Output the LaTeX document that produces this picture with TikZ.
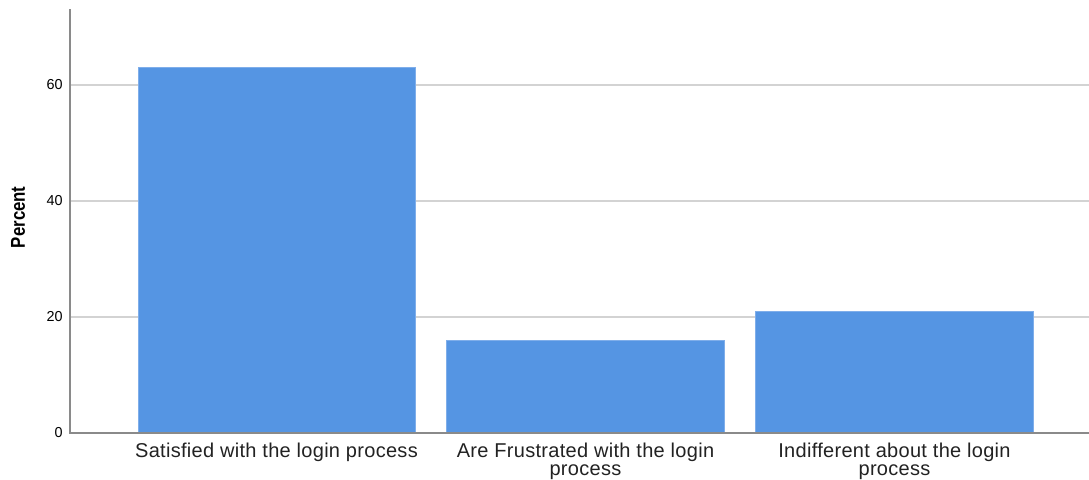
\documentclass[tikz,border=0pt]{standalone}
\usepackage{fontspec}
\setmainfont{Liberation Sans}
\newfontfamily\narrowfont[FakeStretch=0.84]{Liberation Sans}
\newfontfamily\catfont[LetterSpace=1.5]{Liberation Sans}
\definecolor{barblue}{HTML}{5595E3}
\definecolor{baredge}{HTML}{7FAEEA}
\definecolor{gridgray}{HTML}{D3D3D3}
\definecolor{axisgray}{HTML}{8A8A8A}
\definecolor{labelgray}{HTML}{222222}
\tikzset{
  bar/.style={fill=barblue, draw=baredge, line width=0.6pt},
  gridline/.style={gridgray, line width=1.2pt},
  ticklabel/.style={anchor=east, inner sep=0pt, text=black, font=\fontsize{10.8}{12}\selectfont},
  catlabel/.style={anchor=north, inner sep=0pt, align=center, text=labelgray, font=\catfont\fontsize{15}{13.5}\selectfont},
}
\begin{document}
\begin{tikzpicture}[x=0.75pt, y=4.35pt]
    \useasboundingbox (-70,-7.931) rectangle (1019,74.655);
    % grid
    \foreach \v in {20,40,60}
        \draw[gridline] (0,\v) -- (1019,\v);
    \foreach \v in {0,20,40,60}
        \node[ticklabel] (tick\v) at (-7,\v) {\v};
    % bars
    \draw[bar] (68,0) rectangle (345,63.1);
    \draw[bar] (376.7,0) rectangle (654.3,15.9);
    \draw[bar] (685.7,0) rectangle (963.3,21.0);
    % axes
    \draw[axisgray, line width=1.5pt] (0,73.1) -- (0,0) -- (1019,0);
    \node[catlabel] (catA) at (206.5,-1.72) {Satisfied with the login process};
    \node[catlabel] (catB) at (515.5,-1.72) {Are Frustrated with the login\\process};
    \node[catlabel] (catC) at (824.5,-1.72) {Indifferent about the login\\process};
    \node[rotate=90, text=black, font=\narrowfont\bfseries\fontsize{15}{18}\selectfont] (ylabel) at (-52,37.2) {Percent};
\end{tikzpicture}
\end{document}
